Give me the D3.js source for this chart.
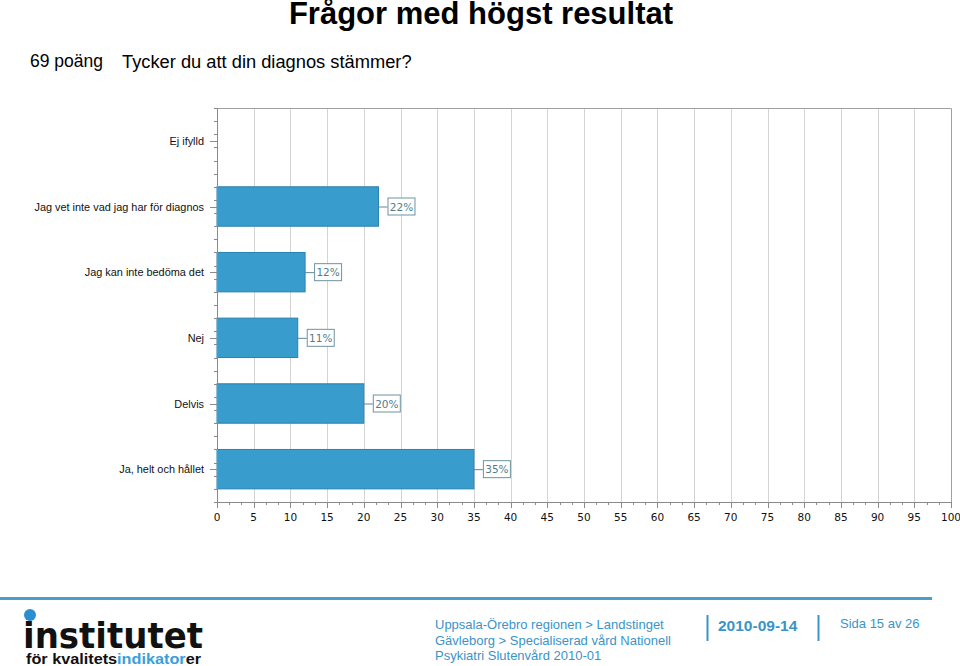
<!DOCTYPE html>
<html><head><meta charset="utf-8">
<script src="https://cdn.jsdelivr.net/npm/d3@7"></script>
<style>body{margin:0;background:#fff}svg{display:block}</style>
</head><body>
<svg id="c" width="960" height="666"></svg>
<script>
const categories = ["Ej ifylld","Jag vet inte vad jag har för diagnos","Jag kan inte bedöma det","Nej","Delvis","Ja, helt och hållet"];
const values = [0,22,12,11,20,35];
const valueLabels = ["","22%","12%","11%","20%","35%"];
const xTicks = [0,5,10,15,20,25,30,35,40,45,50,55,60,65,70,75,80,85,90,95,100];
const title = "Frågor med högst resultat";
const scoreText = "69 poäng";
const question = "Tycker du att din diagnos stämmer?";
const footerLines = ["Uppsala-Örebro regionen > Landstinget","Gävleborg > Specialiserad vård Nationell","Psykiatri Slutenvård 2010-01"];
const footerDate = "2010-09-14";
const footerPage = "Sida 15 av 26";

const svg = d3.select("#c");
const L=217, R=951, T=108, B=502;
const x = d3.scaleLinear().domain([0,100]).range([L,R]);
const y = d3.scaleBand().domain(categories).range([T,B]).paddingInner(0.4).paddingOuter(0.2);
const yc = d3.scaleBand().domain(categories).range([T,B]);

// title texts
svg.append("text").attr("x",481).attr("y",24).attr("text-anchor","middle")
  .attr("font-family","Liberation Sans, Arial").attr("font-weight","bold").attr("font-size",31).text(title);
svg.append("text").attr("x",30).attr("y",67).attr("font-family","Liberation Sans, Arial").attr("font-size",17.5).text(scoreText);
svg.append("text").attr("x",122).attr("y",68).attr("font-family","Liberation Sans, Arial").attr("font-size",18.3).text(question);

// gridlines
svg.append("g").selectAll("line").data(xTicks.slice(1,-1)).join("line")
  .attr("x1",d=>Math.round(x(d))+0.5).attr("x2",d=>Math.round(x(d))+0.5).attr("y1",T).attr("y2",B)
  .attr("stroke","#d4d4d4").attr("stroke-width",1);
// border top/right
svg.append("path").attr("d",`M${L},${T+0.5}H${R+0.5}V${B}`).attr("fill","none").attr("stroke","#a0a0a0");

// bars
svg.append("g").selectAll("rect").data(categories).join("rect")
  .attr("x",x(0)).attr("y",d=>y(d)).attr("width",(d,i)=>x(values[i])-x(0)).attr("height",y.bandwidth())
  .attr("fill","#389dcd").attr("stroke","#2b80ad").attr("stroke-width",1)
  .attr("display",(d,i)=>values[i]>0?null:"none");

// value labels
const lab = svg.append("g").selectAll("g").data(categories.filter((d,i)=>values[i]>0)).join("g");
lab.each(function(d){
  const i = categories.indexOf(d);
  const g = d3.select(this);
  const cy = yc(d)+yc.bandwidth()/2;
  const x0 = x(values[i]);
  g.append("line").attr("x1",x0).attr("x2",x0+9).attr("y1",cy+0.5).attr("y2",cy+0.5).attr("stroke","#5e8796");
  g.append("rect").attr("x",x0+9.5).attr("y",cy-8.5).attr("width",27).attr("height",17)
    .attr("fill","#fff").attr("stroke","#6f93a0");
  g.append("text").attr("x",x0+23).attr("y",cy+4).attr("text-anchor","middle")
    .attr("font-family","DejaVu Sans, Verdana").attr("font-size",10.5).attr("fill","#4f7e8e").text(valueLabels[i]);
});

// y axis
const yAxis = svg.append("g");
yAxis.append("line").attr("x1",L+0.5).attr("x2",L+0.5).attr("y1",T).attr("y2",B).attr("stroke","#8a8a8a");
const minorY = d3.range(0,31).map(k=>T+k*(B-T)/30);
yAxis.selectAll("line.m").data(minorY).join("line").attr("class","m")
  .attr("x1",L-3).attr("x2",L).attr("y1",d=>Math.round(d)+0.5).attr("y2",d=>Math.round(d)+0.5).attr("stroke","#8a8a8a");
yAxis.selectAll("line.M").data(categories).join("line").attr("class","M")
  .attr("x1",L-7).attr("x2",L).attr("y1",d=>Math.round(yc(d)+yc.bandwidth()/2)+0.5).attr("y2",d=>Math.round(yc(d)+yc.bandwidth()/2)+0.5).attr("stroke","#8a8a8a");
yAxis.selectAll("text").data(categories).join("text")
  .attr("x",L-13).attr("y",d=>yc(d)+yc.bandwidth()/2+4).attr("text-anchor","end")
  .attr("font-family","Liberation Sans, Arial").attr("font-size",10.9).attr("fill","#111").text(d=>d);

// x axis
const xAxis = svg.append("g");
xAxis.append("line").attr("x1",L).attr("x2",R+0.5).attr("y1",B+0.5).attr("y2",B+0.5).attr("stroke","#8a8a8a");
const minorX = d3.range(0,61).map(k=>k*100/60);
xAxis.selectAll("line.m").data(minorX).join("line").attr("class","m")
  .attr("x1",d=>Math.round(x(d))+0.5).attr("x2",d=>Math.round(x(d))+0.5).attr("y1",B).attr("y2",B+3).attr("stroke","#8a8a8a");
xAxis.selectAll("line.M").data(xTicks).join("line").attr("class","M")
  .attr("x1",d=>Math.round(x(d))+0.5).attr("x2",d=>Math.round(x(d))+0.5).attr("y1",B).attr("y2",B+6).attr("stroke","#8a8a8a");
xAxis.selectAll("text").data(xTicks).join("text")
  .attr("x",d=>x(d)).attr("y",B+19).attr("text-anchor","middle")
  .attr("font-family","DejaVu Sans, Verdana").attr("font-size",10.5).attr("fill","#111").text(d=>d);

// footer
const blue="#3a94c8";
svg.append("line").attr("x1",0).attr("x2",932).attr("y1",598.5).attr("y2",598.5).attr("stroke","#4a9ecb").attr("stroke-width",3);
svg.append("circle").attr("cx",30).attr("cy",615).attr("r",6).attr("fill","#2a8fd0");
svg.append("text").attr("x",23).attr("y",648).attr("font-family","DejaVu Sans, Arial").attr("font-weight","bold")
  .attr("font-size",36).attr("textLength",180).attr("lengthAdjust","spacingAndGlyphs").attr("fill","#111").text("institutet");
const t2 = svg.append("text").attr("x",26).attr("y",664).attr("font-family","Liberation Sans, Arial").attr("font-weight","bold")
  .attr("font-size",14.5).attr("textLength",175).attr("lengthAdjust","spacingAndGlyphs").attr("fill","#111");
t2.append("tspan").text("för kvalitets");
t2.append("tspan").attr("fill","#3aa0d8").text("indikator");
t2.append("tspan").text("er");

svg.append("g").selectAll("text").data(footerLines).join("text")
  .attr("x",435).attr("y",(d,i)=>629+i*15.5).attr("font-family","Liberation Sans, Arial").attr("font-size",13).attr("fill",blue).text(d=>d);
svg.append("text").attr("x",718).attr("y",631).attr("font-family","Liberation Sans, Arial").attr("font-weight","bold")
  .attr("font-size",15.5).attr("fill",blue).text(footerDate);
[707.5,818.5].forEach(v=>svg.append("line").attr("x1",v).attr("x2",v).attr("y1",615).attr("y2",641).attr("stroke",blue).attr("stroke-width",2));
svg.append("text").attr("x",840).attr("y",628).attr("font-family","Liberation Sans, Arial").attr("font-size",13).attr("fill",blue).text(footerPage);
</script>
</body></html>
